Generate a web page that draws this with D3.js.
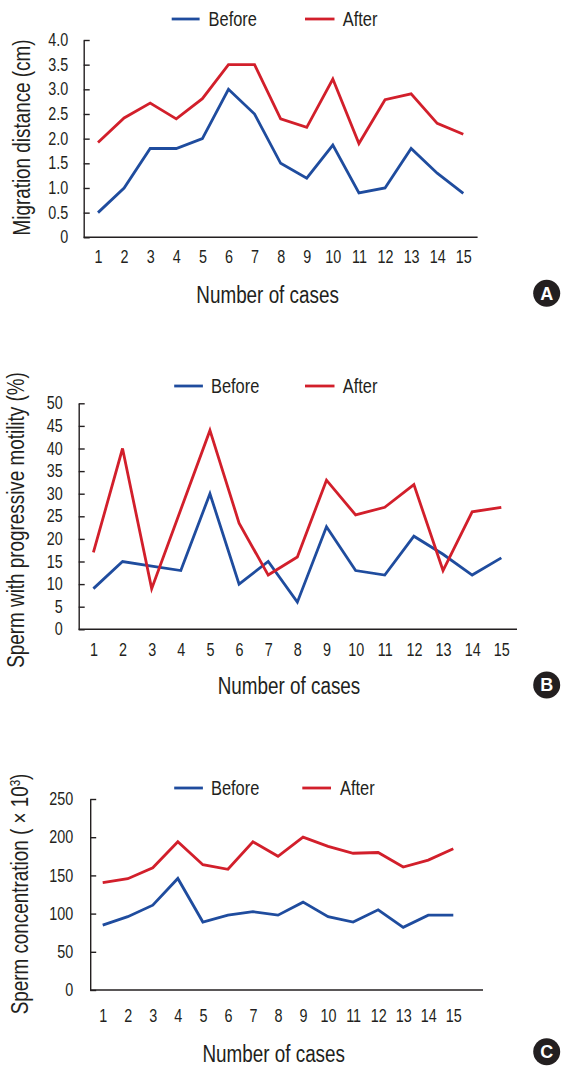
<!DOCTYPE html>
<html><head><meta charset="utf-8">
<script src="https://cdn.jsdelivr.net/npm/d3@7"></script>
<style>
body{margin:0;background:#fff;}
svg text{font-family:"Liberation Sans",Arial,sans-serif;fill:#231f20;}
</style></head><body>
<svg id="c" width="561" height="1066"></svg>
<script>
// ---- data ----
const cases = [1,2,3,4,5,6,7,8,9,10,11,12,13,14,15];
const seriesNames = ["Before","After"];
const migrationBefore = [0.5,1.0,1.8,1.8,2.0,3.0,2.5,1.5,1.2,1.87,0.9,1.0,1.8,1.3,0.89];
const migrationAfter  = [1.92,2.42,2.72,2.4,2.81,3.5,3.5,2.4,2.23,3.21,1.9,2.79,2.91,2.31,2.09];
const motilityBefore = [9,15,14,13,30,10,15,6,22.7,13,12,20.6,16.6,12,15.8];
const motilityAfter  = [17,40,9,26.5,44,23.5,12,16,33,25.3,27,32,13,26,27];
const concBefore = [85,96,111,146,89,98,102.5,98,115,96,89,105,82,98,98];
const concAfter  = [140.5,145.7,160,194,164,158,194,175,200,188,179,180,161,170,185];
const migrationTicks = [0,0.5,1.0,1.5,2.0,2.5,3.0,3.5,4.0];
const motilityTicks = [0,5,10,15,20,25,30,35,40,45,50];
const concTicks = [0,50,100,150,200,250];

const BLUE = "#1f4c9e", RED = "#d21f2b", INK = "#231f20";
const SQ = 0.82; // condensed look
const svg = d3.select("#c");

function squeeze(sel){
  sel.each(function(){
    const L = this.getComputedTextLength();
    if (L > 0) d3.select(this).attr("textLength", L*SQ).attr("lengthAdjust","spacingAndGlyphs");
  });
}

function panel(o){
  const g = svg.append("g");
  const x = d3.scalePoint().domain(cases).range([o.p1, o.p15]);
  const y = d3.scaleLinear().domain([0, o.ticks[o.ticks.length-1]]).range([o.yBottom, o.yTop]);
  // y axis
  const ya = g.append("g").attr("transform", `translate(${o.axisX},0)`)
    .call(d3.axisLeft(y).tickValues(o.ticks).tickSize(-6).tickSizeOuter(0).tickPadding(o.padY).tickFormat(o.fmt));
  ya.selectAll("path,line").attr("stroke", INK).attr("stroke-width", 1.4);
  ya.selectAll("text").attr("font-size", 17.5).attr("fill", INK)
    .style("font-family", '"Liberation Sans",Arial,sans-serif').call(squeeze);
  // x axis
  g.append("line").attr("x1", o.axisX).attr("x2", o.axisEnd).attr("y1", o.yBottom).attr("y2", o.yBottom)
    .attr("stroke", INK).attr("stroke-width", 1.4);
  const xa = g.append("g").attr("transform", `translate(0,${o.yBottom})`)
    .call(d3.axisBottom(x).tickSize(0).tickPadding(o.padX));
  xa.select(".domain").remove();
  xa.selectAll("text").attr("font-size", 17.5).attr("fill", INK)
    .style("font-family", '"Liberation Sans",Arial,sans-serif').call(squeeze);
  // lines
  const line = d3.line().x((d,i)=>x(cases[i])).y(d=>y(d));
  [[o.before, BLUE],[o.after, RED]].forEach(([vals,col])=>{
    g.append("path").datum(vals).attr("d", line).attr("fill","none")
      .attr("stroke", col).attr("stroke-width", 2.8).attr("stroke-linejoin","miter");
  });
  // legend
  const leg = [[o.leg.b, BLUE, seriesNames[0]], [o.leg.a, RED, seriesNames[1]]];
  leg.forEach(([p,col,name])=>{
    g.append("line").attr("x1", p[0]).attr("x2", p[1]).attr("y1", o.leg.y).attr("y2", o.leg.y)
      .attr("stroke", col).attr("stroke-width", 2.8);
    g.append("text").attr("x", p[2]).attr("y", o.leg.y).attr("dy","0.36em")
      .attr("font-size", 20).text(name).call(squeeze);
  });
  // y title
  const yt = g.append("text").attr("transform", `translate(${o.yTitle[0]},${o.yTitle[1]}) rotate(-90)`)
    .attr("text-anchor","middle").attr("dy","0.36em").attr("font-size", 23);
  o.yTitleFn(yt);
  squeeze(yt);
  // x title
  g.append("text").attr("x", o.xTitle[0]).attr("y", o.xTitle[1]).attr("text-anchor","middle")
    .attr("font-size", 23).text("Number of cases").call(squeeze);
  // badge
  g.append("circle").attr("cx", o.badge[0]).attr("cy", o.badge[1]).attr("r", 13.5).attr("fill", INK);
  g.append("text").attr("x", o.badge[0]).attr("y", o.badge[1]).attr("dy","0.36em").attr("text-anchor","middle")
    .attr("font-size", 18).attr("font-weight","bold").style("fill","#fff")
    .text(o.letter);
}

panel({
  before: migrationBefore, after: migrationAfter, ticks: migrationTicks,
  fmt: d => d === 0 ? "0" : d3.format(".1f")(d),
  axisX: 83.7, axisEnd: 477.6, yTop: 40, yBottom: 237.3, p1: 98, p15: 463.3,
  padY: 15.5, padX: 13.6,
  leg: {y: 19, b: [171.7, 199.6, 208.6], a: [305, 334.5, 342.8]},
  yTitle: [21.5, 137.5], yTitleFn: t => t.text("Migration distance (cm)"),
  xTitle: [267.6, 303.3], badge: [546.7, 293.3], letter: "A"
});
panel({
  before: motilityBefore, after: motilityAfter, ticks: motilityTicks,
  fmt: d3.format("d"),
  axisX: 78.7, axisEnd: 517, yTop: 403.3, yBottom: 629.3, p1: 93.4, p15: 501.3,
  padY: 16, padX: 14.3,
  leg: {y: 386, b: [174.2, 202.9, 211], a: [305, 334.5, 342.8]},
  yTitle: [16, 520], yTitleFn: t => t.text("Sperm with progressive motility (%)"),
  xTitle: [289, 694], badge: [546.7, 685], letter: "B"
});
panel({
  before: concBefore, after: concAfter, ticks: concTicks,
  fmt: d3.format("d"),
  axisX: 90.2, axisEnd: 483, yTop: 799, yBottom: 990, p1: 102.7, p15: 453.3,
  padY: 17, padX: 19.3,
  leg: {y: 788, b: [174.2, 202.9, 211], a: [302.3, 331, 340]},
  yTitle: [19.7, 894], yTitleFn: t => {
    t.append("tspan").text("Sperm concentration ( × 10");
    t.append("tspan").attr("baseline-shift","super").attr("font-size", 14).text("3");
    t.append("tspan").text(")");
  },
  xTitle: [273.7, 1061.7], badge: [546.7, 1051.7], letter: "C"
});
</script>
</body></html>
